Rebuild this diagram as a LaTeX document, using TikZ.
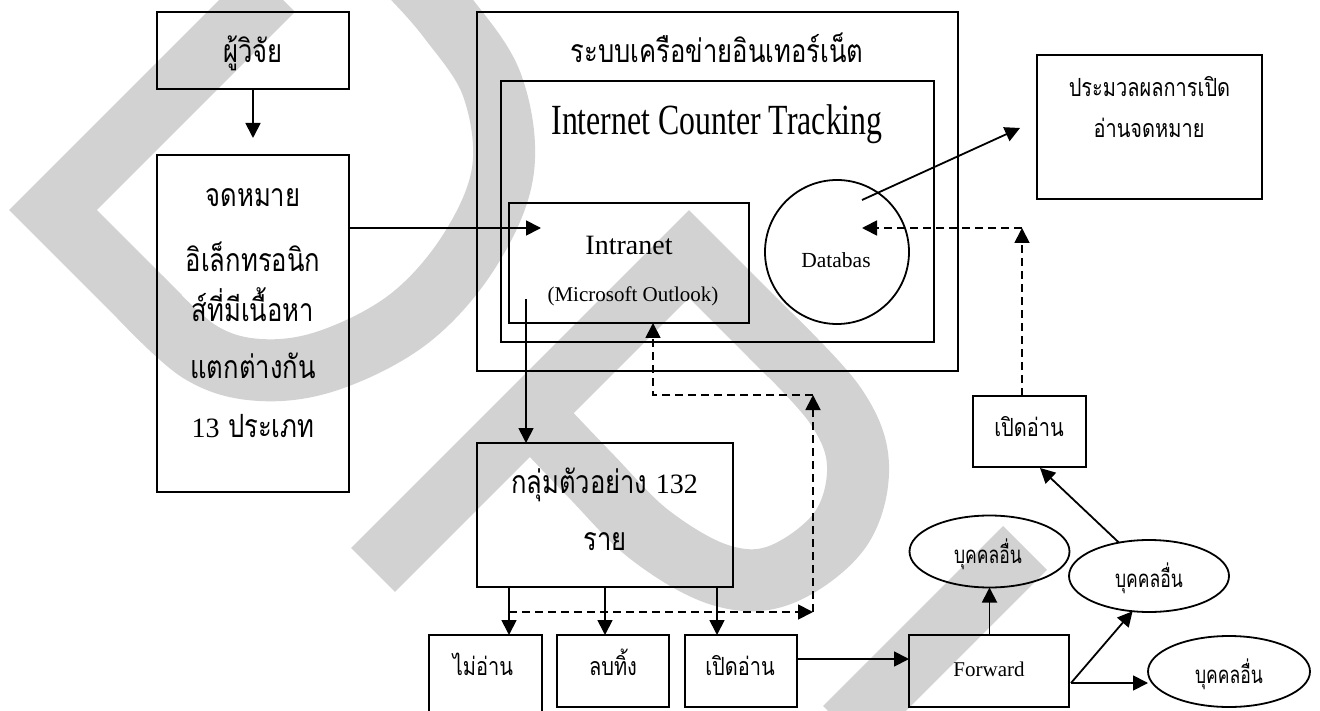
\documentclass[tikz,border=0pt]{standalone}
\usepackage{fontspec}
\setmainfont{Liberation Serif}
\newfontfamily\thaiwide{Loma}[Script=Thai, FakeStretch=0.8]
\newfontfamily\thainarrow{Loma}[Script=Thai, FakeStretch=0.73]
\newfontfamily\thaimid{Loma}[Script=Thai, FakeStretch=0.8]
\newfontfamily\narrowserif{Liberation Serif}[FakeStretch=0.74]
\usetikzlibrary{arrows.meta,shapes.geometric}

\newcommand\thB{\thaiwide\fontsize{32}{32}\selectfont}
\newcommand\thM{\thainarrow\fontsize{24}{24}\selectfont}
\newcommand\thS{\thaimid\fontsize{25}{25}\selectfont}
\newcommand\numtxt[1]{{\rmfamily\fontsize{28}{28}\selectfont #1}}

\tikzset{
  box/.style={draw, line width=1.8pt, inner sep=0pt, outer sep=0pt},
  oval/.style={ellipse, draw, line width=1.8pt, inner sep=0pt, outer sep=0pt},
  txt/.style={inner sep=0pt, anchor=base},
  arr/.style={line width=1.8pt, -{Triangle[length=15pt,width=15pt]}},
  dsh/.style={line width=1.8pt, dash pattern=on 8pt off 5pt},
  wm/.style={line width=62pt, draw=gray!35, line cap=butt, line join=miter}
}

\begin{document}
\begin{tikzpicture}[x=1pt,y=-1pt]
\useasboundingbox (0,0) rectangle (1320,711);

% light grey background logo strokes
\begin{scope}
  \clip (0,0) rectangle (1320,711);
  \draw[wm] (273,-10) -- (53,210) -- (160,317);
  \draw[wm] plot[smooth, tension=0.6] coordinates
    {(140,297) (200,352) (260,370) (330,360) (410,318) (470,250) (503,170) (492,85) (448,18) (410,-25)};
  \draw[wm] (373,570) -- (689,254) -- (790,355);
  \draw[wm] plot[smooth, tension=0.6] coordinates
    {(770,335) (835,405) (858,465) (840,530) (780,575) (720,575) (650,535) (590,475) (530,412)};
  \draw[wm] (1025,548) -- (845,728);
\end{scope}

% boxes
\node[box, minimum width=192pt, minimum height=77pt]  (R)   at (253,50.5)   {};
\node[box, minimum width=192pt, minimum height=337pt] (E)   at (253,323.5)  {};
\node[box, minimum width=481pt, minimum height=359pt] (N)   at (717.5,191.5) {};
\node[box, minimum width=433pt, minimum height=261pt] (T)   at (717.5,211.5) {};
\node[box, minimum width=240pt, minimum height=120pt] (I)   at (629,263)    {};
\node[circle, draw, line width=1.8pt, inner sep=0pt, minimum size=144pt] (DB) at (837,252) {};
\node[box, minimum width=225pt, minimum height=144pt] (P)   at (1149.5,127) {};
\node[box, minimum width=256pt, minimum height=144pt] (G)   at (605,515)    {};
\node[box, minimum width=113pt, minimum height=100pt] (NR)  at (485.5,685)  {};
\node[box, minimum width=112pt, minimum height=72pt]  (DL)  at (613,671)    {};
\node[box, minimum width=112pt, minimum height=72pt]  (OP)  at (741,671)    {};
\node[box, minimum width=160pt, minimum height=72pt]  (FW)  at (989,671)    {};
\node[box, minimum width=113pt, minimum height=71pt]  (OP2) at (1029.5,431.5) {};
\node[oval, minimum width=160pt, minimum height=72pt] (PA)  at (989.5,551.5) {};
\node[oval, minimum width=160pt, minimum height=72pt] (PB)  at (1149,576)   {};
\node[oval, minimum width=162pt, minimum height=71pt] (PC)  at (1229,671.5) {};

% texts
\node[txt] (tR)  at (253,63)  {\thB ผู้วิจัย};
\node[txt] (tE1) at (253,207) {\thB จดหมาย};
\node[txt] (tE2) at (253,272) {\thB อิเล็กทรอนิก};
\node[txt] (tE3) at (253,322) {\thB ส์ที่มีเนื้อหา};
\node[txt] (tE4) at (253,378) {\thB แตกต่างกัน};
\node[txt] (tE5) at (253,437) {\numtxt{13}\thB\ ประเภท};
\node[txt] (tN)  at (717,63)  {\thB ระบบเครือข่ายอินเทอร์เน็ต};
\node[txt] (tT)  at (717,135) {\narrowserif\fontsize{43}{43}\selectfont Internet Counter Tracking};
\node[txt] (tI1) at (629,255) {\fontsize{28}{28}\selectfont Intranet};
\node[txt] (tI2) at (633,302) {\fontsize{21}{21}\selectfont (Microsoft Outlook)};
\node[txt] (tDB) at (836,268) {\fontsize{21.5}{21.5}\selectfont Databas};
\node[txt] (tP1) at (1149.5,97)  {\thS ประมวลผลการเปิด};
\node[txt] (tP2) at (1149,138)   {\thS อ่านจดหมาย};
\node[txt] (tG1) at (604.5,493)  {\thB กลุ่มตัวอย่าง \numtxt{132}};
\node[txt] (tG2) at (605,550)    {\thB ราย};
\node[txt] (tNR) at (483,675)    {\thS ไม่อ่าน};
\node[txt] (tDL) at (613,675)    {\thS ลบทิ้ง};
\node[txt] (tOP) at (740,675)    {\thS เปิดอ่าน};
\node[txt] (tFW) at (989,676)    {\fontsize{21}{21}\selectfont Forward};
\node[txt] (tO2) at (1029,436)   {\thS เปิดอ่าน};
\node[txt] (tPA) at (988,563)    {\thM บุคคลอื่น};
\node[txt] (tPB) at (1149,587)   {\thM บุคคลอื่น};
\node[txt] (tPC) at (1229,683)   {\thM บุคคลอื่น};

% connector end points
\coordinate (inTip)  at (541,228);
\coordinate (outSrc) at (526,299);
\coordinate (dbOut)  at (862,200);
\coordinate (pTip)   at (1020,128);
\coordinate (d1) at (509,612);
\coordinate (d2) at (813,612);
\coordinate (d3) at (813,395);
\coordinate (d4) at (653,395);
\coordinate (cx2) at (605,600);
\coordinate (cx3) at (717,600);
\coordinate (ofw) at (850,659);
\coordinate (fwo) at (1071,683);
\coordinate (o2in) at (1040,468);
\coordinate (dd) at (1022,228);
\coordinate (dbTip) at (862,228);

% solid connectors
\draw[arr, shorten >=17pt] (R.south) -- (E.north);
\draw[arr] (E.east |- inTip) -- (inTip);
\draw[arr] (outSrc) -- (outSrc |- G.north);
\draw[arr] (dbOut) -- (pTip);
\draw[arr] (G.south -| d1)  -- (NR.north -| d1);
\draw[arr] (G.south -| cx2) -- (DL.north -| cx2);
\draw[arr] (G.south -| cx3) -- (OP.north -| cx3);
\draw[arr] (OP.east |- ofw) -- (FW.west |- ofw);
\draw[arr] (FW.north -| PA) -- (PA.south);
\draw[arr] (fwo) -- (PB.245);
\draw[arr] (fwo) -- (fwo -| PC.west);
\draw[arr] (PB.132) -- (o2in);

% dashed feedback connectors
\draw[dsh, arr] (d1) -- (d2);
\draw[dsh, arr] (d2) -- (d3);
\draw[dsh, arr] (d3) -- (d4) -- (d4 |- I.south);
\draw[dsh, arr] (OP2.north -| dd) -- (dd);
\draw[dsh, arr] (dd) -- (dbTip);
\end{tikzpicture}
\end{document}
